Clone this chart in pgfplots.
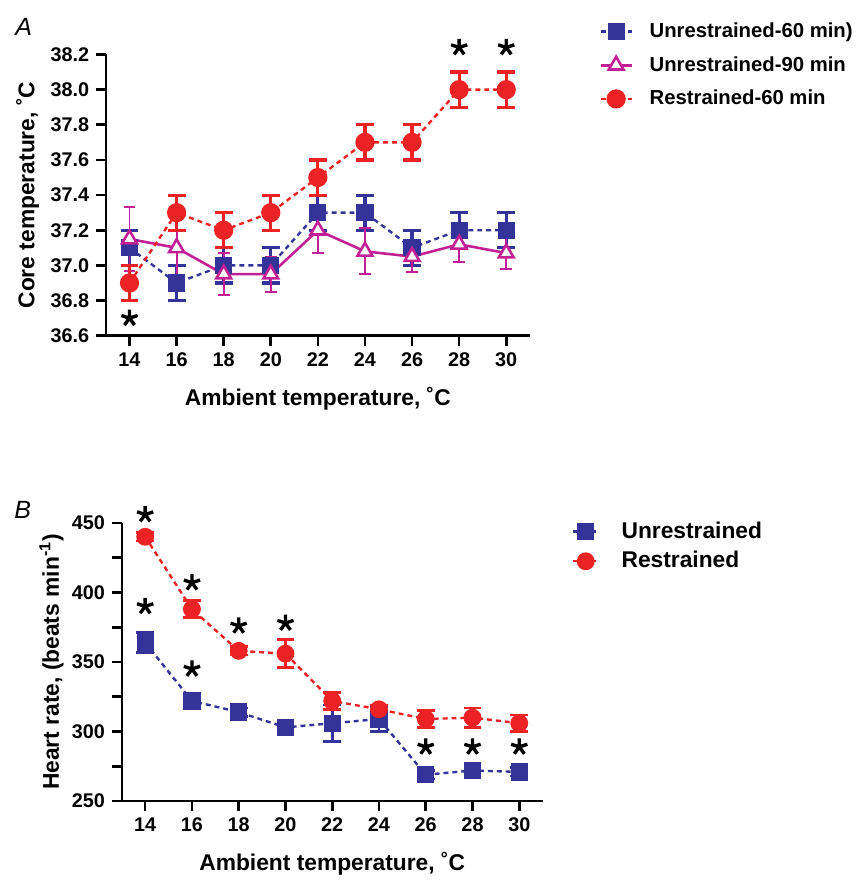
\documentclass[border=0pt]{standalone}
\usepackage{fontspec}
\setmainfont{Liberation Sans}
\usepackage{pgfplots}
\pgfplotsset{compat=1.18}
\definecolor{cblue}{RGB}{51,51,153}
\definecolor{cred}{RGB}{237,34,36}
\definecolor{cmag}{RGB}{196,32,150}

\pgfplotsset{
  panel/.style={
    scale only axis, clip=false,
    axis x line*=bottom, axis y line*=left,
    axis line style={line width=1.3pt, black},
    tick align=outside, major tick length=5pt, minor tick length=5pt,
    tick style={line width=1.3pt, black},
    xmin=13, xmax=31, xtick={14,16,...,30},
    /pgf/number format/assume math mode=true,
    tick label style={font=\bfseries\fontsize{10}{12}\selectfont},
    label style={font=\bfseries\fontsize{11.5}{13}\selectfont},
    legend cell align=left,
  },
  dashline/.style={line width=1.2pt, dash pattern=on 2.5pt off 2pt},
  ebar/.style={error bars/.cd, y dir=both, y explicit,
    error bar style={line width=#1, solid},
    error mark options={rotate=90, mark size=4.5pt, line width=#1, solid}},
  stars/.style={only marks, mark=star, mark size=4.3pt, black,
    mark options={line width=1.7pt}, forget plot},
}

\begin{document}
\begin{tikzpicture}
\path (0pt,0pt) rectangle (432pt,-441pt);

% panel A
\node at (12pt,-13.5pt) {\itshape\fontsize{12.6}{14}\selectfont A};
\begin{axis}[panel,
  at={(53.5pt,-169.5pt)}, anchor=south west,
  width=214pt, height=142pt,
  ymin=36.6, ymax=38.2, ytick={36.6,36.8,...,38.21},
  yticklabel style={/pgf/number format/.cd, fixed, fixed zerofill, precision=1},
  xlabel={Ambient temperature, ˚C},
  ylabel={Core temperature, ˚C},
  xlabel style={at={(axis description cs:0.5,-0.2232)}, anchor=center},
  ylabel style={at={(axis description cs:-0.1846,0.5)}, anchor=center},
  legend style={at={(axis description cs:1.1636,1.118)}, anchor=north west,
    draw=none, fill=none, inner sep=0pt, row sep=7pt, column sep=8.5pt,
    font=\bfseries\fontsize{10.25}{12}\selectfont,
    nodes={inner sep=0pt, text height=8pt, text depth=2pt}},
  legend image code/.code={\draw[mark repeat=2,mark phase=2,#1]
    plot coordinates {(0pt,0pt) (7.75pt,0pt) (15.5pt,0pt)};},
]
\addplot[cblue, dashline, mark=square*, mark size=3.75pt, mark options={solid},
  ebar=1.6pt] coordinates {
  (14,37.1) +- (0,0.1)
  (16,36.9) +- (0,0.1)
  (18,37.0) +- (0,0.1)
  (20,37.0) +- (0,0.1)
  (22,37.3) +- (0,0.1)
  (24,37.3) +- (0,0.1)
  (26,37.1) +- (0,0.1)
  (28,37.2) +- (0,0.1)
  (30,37.2) +- (0,0.1)
};
\addlegendentry{Unrestrained-60 min)}
\addplot[cmag, line width=1.3pt, mark=triangle*, mark size=4.3pt,
  mark options={solid, fill=white, line width=1.3pt},
  error bars/.cd, y dir=both, y explicit,
  error bar style={line width=1pt, solid},
  error mark options={rotate=90, mark size=3pt, line width=1pt, solid}] coordinates {
  (14,37.15) +- (0,0.18)
  (16,37.10) +- (0,0.18)
  (18,36.95) +- (0,0.12)
  (20,36.95) +- (0,0.10)
  (22,37.20) +- (0,0.13)
  (24,37.08) +- (0,0.13)
  (26,37.05) +- (0,0.09)
  (28,37.12) +- (0,0.10)
  (30,37.07) +- (0,0.09)
};
\addlegendentry{Unrestrained-90 min}
\addplot[cred, dashline, mark=*, mark size=4.25pt, mark options={solid},
  ebar=1.6pt] coordinates {
  (14,36.9) +- (0,0.1)
  (16,37.3) +- (0,0.1)
  (18,37.2) +- (0,0.1)
  (20,37.3) +- (0,0.1)
  (22,37.5) +- (0,0.1)
  (24,37.7) +- (0,0.1)
  (26,37.7) +- (0,0.1)
  (28,38.0) +- (0,0.1)
  (30,38.0) +- (0,0.1)
};
\addlegendentry{Restrained-60 min}
\addplot[stars] coordinates {(14,36.7) (28,38.24) (30,38.24)};
\end{axis}

% panel B
\node at (11.5pt,-257.5pt) {\itshape\fontsize{12.6}{14}\selectfont B};
\begin{axis}[panel,
  at={(61.5pt,-404.5pt)}, anchor=south west,
  width=212.5pt, height=140.5pt,
  ymin=250, ymax=450, ytick={250,300,...,450}, minor y tick num=1,
  xlabel={Ambient temperature, ˚C},
  ylabel={Heart rate, (beats min\textsuperscript{-1})},
  xlabel style={at={(axis description cs:0.5,-0.2256)}, anchor=center},
  ylabel style={at={(axis description cs:-0.167,0.5)}, anchor=center},
  legend style={at={(axis description cs:1.068,1.011)}, anchor=north west,
    draw=none, fill=none, inner sep=0pt, row sep=3.5pt, column sep=11pt,
    font=\bfseries\fontsize{11.5}{13}\selectfont,
    nodes={inner sep=0pt, text height=9pt, text depth=2.5pt}},
  legend image code/.code={\draw[mark repeat=2,mark phase=2,#1]
    plot coordinates {(0pt,0pt) (6.5pt,0pt) (13pt,0pt)};},
]
\addplot[cblue, dashline, mark=square*, mark size=3.75pt, mark options={solid},
  ebar=1.3pt] coordinates {
  (14,364) +- (0,7)
  (16,322) +- (0,3)
  (18,314) +- (0,3)
  (20,303) +- (0,3)
  (22,306) +- (0,13)
  (24,309) +- (0,9)
  (26,269) +- (0,3)
  (28,272) +- (0,3)
  (30,271) +- (0,3)
};
\addlegendentry{Unrestrained}
\addplot[cred, dashline, mark=*, mark size=3.9pt, mark options={solid},
  ebar=1.3pt] coordinates {
  (14,440) +- (0,3)
  (16,388) +- (0,6)
  (18,358) +- (0,3)
  (20,356) +- (0,10)
  (22,322) +- (0,6)
  (24,316) +- (0,3)
  (26,309) +- (0,6)
  (28,310) +- (0,7)
  (30,306) +- (0,6)
};
\addlegendentry{Restrained}
\addplot[stars] coordinates {
  (14,456) (14,390) (16,407) (16,345) (18,376) (20,378)
  (26,289) (28,289) (30,289)};
\end{axis}
\end{tikzpicture}
\end{document}
